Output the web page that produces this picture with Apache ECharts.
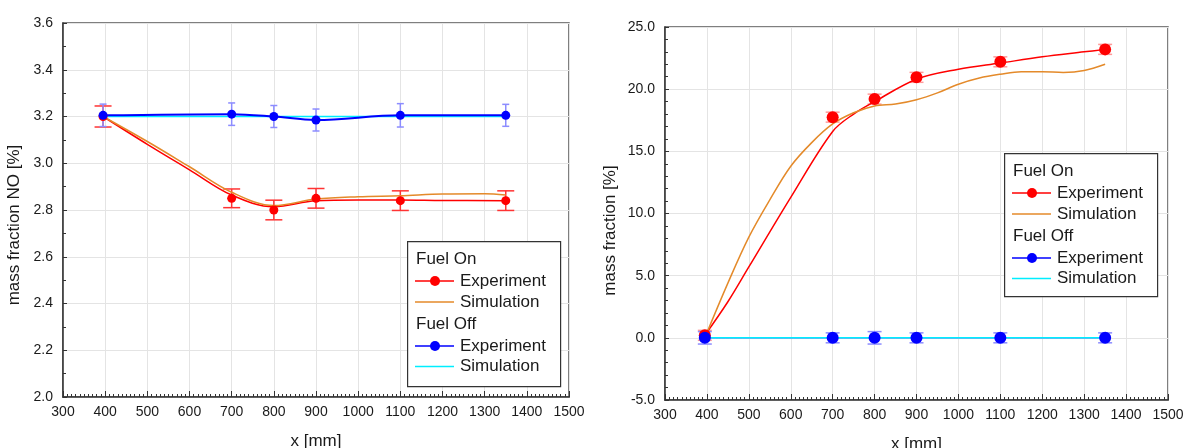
<!DOCTYPE html>
<html>
<head>
<meta charset="utf-8">
<script src="https://cdn.jsdelivr.net/npm/echarts@6/dist/echarts.min.js"></script>
<style>
html, body { margin: 0; padding: 0; background: #fff; }
#chart { width: 1186px; height: 448px; }
</style>
</head>
<body>
<div id="chart"></div>
<script>
// measurement positions along the burner [mm]
var xPos = [395, 700, 800, 900, 1100, 1350];

// left panel: mass fraction NO [%]
var noOnExp = [3.20, 2.85, 2.80, 2.85, 2.84, 2.84];
var noOnErr = [0.045, 0.04, 0.042, 0.042, 0.042, 0.042];
var noOffExp = [3.205, 3.21, 3.20, 3.185, 3.205, 3.205];
var noOffErr = [0.048, 0.048, 0.047, 0.047, 0.05, 0.047];
var noOnFitX = [395, 500, 600, 700, 800, 900, 1000, 1100, 1200, 1350];
var noOnFitY = [3.20, 3.081, 2.972, 2.864, 2.814, 2.840, 2.843, 2.843, 2.841, 2.840];
var noOnSimX = [395, 500, 600, 700, 800, 900, 1000, 1100, 1200, 1300, 1350];
var noOnSimY = [3.20, 3.093, 2.985, 2.876, 2.819, 2.847, 2.857, 2.861, 2.868, 2.869, 2.864];
var noOffSimX = [395, 1350];
var noOffSimY = [3.20, 3.20];

// right panel: mass fraction [%]
var mfOnExp = [0.2, 17.75, 19.2, 20.95, 22.2, 23.2];
var mfOnErr = [0.4, 0.4, 0.4, 0.4, 0.4, 0.4];
var mfOffExp = [0, 0, 0, 0, 0, 0];
var mfOffErr = [0.5, 0.4, 0.5, 0.4, 0.4, 0.4];
var mfOnFitX = [395, 450, 500, 600, 700, 750, 800, 900, 1000, 1100, 1200, 1300, 1350];
var mfOnFitY = [0.2, 2.9, 5.7, 11.3, 16.6, 18.0, 19.0, 20.8, 21.6, 22.1, 22.6, 23.0, 23.2];
var mfOnSimX = [395, 450, 500, 550, 600, 650, 700, 750, 800, 850, 900, 950, 1000, 1050, 1100, 1150, 1200, 1250, 1300, 1350];
var mfOnSimY = [0.0, 4.4, 8.1, 11.1, 13.8, 15.7, 17.2, 18.1, 18.65, 18.8, 19.15, 19.7, 20.4, 20.9, 21.2, 21.4, 21.4, 21.35, 21.5, 22.0];
var mfOffSimX = [395, 1350];
var mfOffSimY = [0, 0];

var RED = '#ff0000', ORANGE = '#e48a2a', BLUE = '#0000ff', CYAN = '#00eeff';
var FONT = 'Liberation Sans, Arial, sans-serif';

function zip(xs, ys) {
    return xs.map(function (x, i) { return [x, ys[i]]; });
}

function errorBars(idx, vals, errs, color, half, z) {
    return {
        type: 'custom', xAxisIndex: idx, yAxisIndex: idx, silent: true, z: z,
        data: xPos.map(function (x, i) { return [x, vals[i] - errs[i], vals[i] + errs[i]]; }),
        encode: { x: 0, y: [1, 2] },
        renderItem: function (params, api) {
            var t = api.coord([api.value(0), api.value(2)]);
            var b = api.coord([api.value(0), api.value(1)]);
            var st = { stroke: color, lineWidth: 1.5 };
            return {
                type: 'group', children: [
                    { type: 'line', shape: { x1: t[0], y1: t[1], x2: b[0], y2: b[1] }, style: st },
                    { type: 'line', shape: { x1: t[0] - half, y1: t[1], x2: t[0] + half, y2: t[1] }, style: st },
                    { type: 'line', shape: { x1: b[0] - half, y1: b[1], x2: b[0] + half, y2: b[1] }, style: st }
                ]
            };
        }
    };
}

function curve(idx, data, color, width, z) {
    return {
        type: 'line', xAxisIndex: idx, yAxisIndex: idx, data: data, smooth: 0.35,
        showSymbol: false, silent: true, z: z,
        lineStyle: { color: color, width: width }
    };
}

function dots(idx, vals, color, size) {
    return {
        type: 'scatter', xAxisIndex: idx, yAxisIndex: idx, data: zip(xPos, vals),
        symbol: 'circle', symbolSize: size, itemStyle: { color: color, opacity: 1 }, z: 5
    };
}

// legend box drawn by hand, rows as in the original
function legendBox(left, top, w, h) {
    var rows = [
        { t: 'Fuel On', y: 18 },
        { t: 'Experiment', y: 40, c: RED, dot: true },
        { t: 'Simulation', y: 61, c: ORANGE },
        { t: 'Fuel Off', y: 83 },
        { t: 'Experiment', y: 105, c: BLUE, dot: true },
        { t: 'Simulation', y: 125.5, c: CYAN }
    ];
    var els = [{
        type: 'rect', left: left, top: top, z: 10,
        shape: { width: w, height: h },
        style: { fill: '#fff', stroke: '#333', lineWidth: 1.2 }
    }];
    rows.forEach(function (r) {
        var y = top + r.y;
        if (r.c) {
            els.push({ type: 'line', z: 11, shape: { x1: left + 8, y1: y, x2: left + 47, y2: y }, style: { stroke: r.c, lineWidth: 1.5 } });
            if (r.dot) els.push({ type: 'circle', z: 12, shape: { cx: left + 28, cy: y, r: 5 }, style: { fill: r.c } });
        }
        els.push({
            type: 'text', z: 12, x: left + (r.c ? 53 : 9), y: y,
            style: { text: r.t, font: '17px ' + FONT, fill: '#1a1a1a', verticalAlign: 'middle' }
        });
    });
    return els;
}

function xAxis(idx) {
    return {
        type: 'value', gridIndex: idx, min: 300, max: 1500, interval: 100,
        name: 'x [mm]', nameLocation: 'middle', nameGap: 36,
        nameTextStyle: { fontSize: 17, fontFamily: FONT, color: '#1a1a1a' },
        axisLine: { onZero: false, lineStyle: { color: '#333', width: 1.5 } },
        axisTick: { inside: true, length: 6, lineStyle: { color: '#333' } },
        minorTick: { show: true, splitNumber: 10, length: 3, lineStyle: { color: '#333' } },
        axisLabel: { fontSize: 14, fontFamily: FONT, color: '#1a1a1a', margin: 8,
            formatter: function (v) { return String(v); } },
        splitLine: { show: true, lineStyle: { color: '#e4e4e4' } }
    };
}

function yAxis(idx, min, max, step, minor, name, gap, shift) {
    return {
        type: 'value', gridIndex: idx, min: min, max: max, interval: step,
        name: name, nameLocation: 'middle', nameGap: gap,
        nameTextStyle: { fontSize: 17, fontFamily: FONT, color: '#1a1a1a', padding: [0, shift, 0, 0] },
        axisLine: { onZero: false, lineStyle: { color: '#333', width: 1.5 } },
        axisTick: { inside: true, length: 4, lineStyle: { color: '#333' } },
        minorTick: { show: true, splitNumber: minor, length: 3, lineStyle: { color: '#333' } },
        axisLabel: { fontSize: 14, fontFamily: FONT, color: '#1a1a1a', margin: 10,
            formatter: function (v) { return v.toFixed(1); } },
        splitLine: { show: true, lineStyle: { color: '#e4e4e4' } }
    };
}

var chart = echarts.init(document.getElementById('chart'));

chart.setOption({
    animation: false,
    backgroundColor: '#fff',
    grid: [
        { left: 63, top: 23, width: 506, height: 374, outerBoundsMode: 'none', show: true, borderColor: '#555', borderWidth: 1.5 },
        { left: 665, top: 27, width: 503, height: 373, outerBoundsMode: 'none', show: true, borderColor: '#555', borderWidth: 1.5 }
    ],
    xAxis: [xAxis(0), xAxis(1)],
    yAxis: [
        yAxis(0, 2.0, 3.6, 0.2, 2, 'mass fraction NO [%]', 40, 30),
        yAxis(1, -5, 25, 5, 5, 'mass fraction [%]', 46, 34)
    ],
    series: [
        // left
        errorBars(0, noOnExp, noOnErr, '#ff3333', 8.5, 3),
        errorBars(0, noOffExp, noOffErr, '#8c8cff', 3.5, 3),
        curve(0, zip(noOnFitX, noOnFitY), RED, 1.5, 4),
        curve(0, zip(noOnSimX, noOnSimY), ORANGE, 1.5, 4),
        curve(0, zip(noOffSimX, noOffSimY), CYAN, 1.5, 4),
        curve(0, zip(xPos, noOffExp), BLUE, 2, 4),
        dots(0, noOnExp, RED, 9),
        dots(0, noOffExp, BLUE, 9),
        // right
        errorBars(1, mfOnExp, mfOnErr, '#ff9a9a', 7, 3),
        errorBars(1, mfOffExp, mfOffErr, '#8c8cff', 7, 3),
        curve(1, zip(mfOnFitX, mfOnFitY), RED, 1.5, 4),
        curve(1, zip(mfOnSimX, mfOnSimY), ORANGE, 1.5, 4),
        curve(1, zip(xPos, mfOffExp), BLUE, 1, 4),
        curve(1, zip(mfOffSimX, mfOffSimY), CYAN, 1.5, 4),
        dots(1, mfOnExp, RED, 12),
        dots(1, mfOffExp, BLUE, 12)
    ],
    graphic: legendBox(407, 241, 153, 145).concat(legendBox(1004, 153, 153, 143))
});
</script>
</body>
</html>
